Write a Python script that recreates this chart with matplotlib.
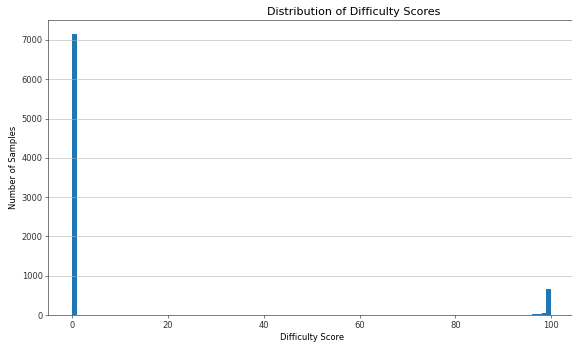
import numpy as np
import matplotlib
matplotlib.use("Agg")
import matplotlib.pyplot as plt

# histogram of difficulty scores, 100 bins of width 1 from 0 to 100
bin_edges = np.linspace(0, 100, 101)
counts = np.zeros(100)
counts[0] = 7150
counts[93] = 12
counts[94] = 10
counts[95] = 6
counts[96] = 18
counts[97] = 22
counts[98] = 40
counts[99] = 670

fig = plt.figure(figsize=(10, 5.98), dpi=57.2)
ax = fig.add_axes([0.0845, 0.0789, 0.921, 0.8626])
ax.hist(bin_edges[:-1], bins=bin_edges, weights=counts, color='#1f77b4')
ax.set_title('Distribution of Difficulty Scores', fontsize=14, x=0.58)
ax.set_xlabel('Difficulty Score', fontsize=10.5)
ax.set_ylabel('Number of Samples', fontsize=10.5)
ax.tick_params(colors='#333333', labelsize=10.5)
for s in ax.spines.values():
    s.set_color('#333333')
ax.grid(True, axis='y', color='#b0b0b0', alpha=0.85)
ax.set_xticks([0, 20, 40, 60, 80, 100])
fig.savefig('out.png', dpi=57.2)
